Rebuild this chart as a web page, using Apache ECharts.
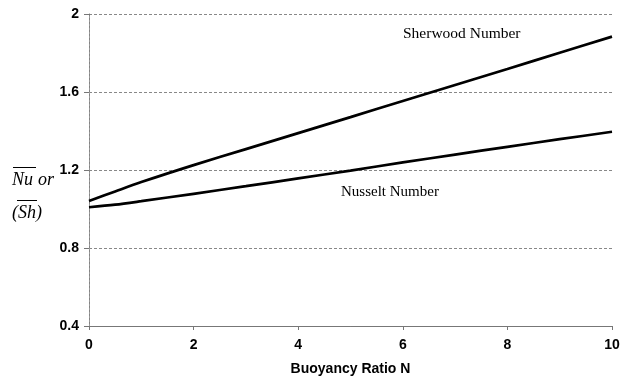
<!DOCTYPE html>
<html>
<head>
<meta charset="utf-8">
<script src="https://cdn.jsdelivr.net/npm/echarts@6/dist/echarts.min.js"></script>
<style>html,body{margin:0;padding:0;background:#fff}#c{width:637px;height:377px}</style>
</head>
<body>
<div id="c"></div>
<script>
var buoyancyN = [0, 0.5, 1, 2, 3, 4, 5, 6, 7, 8, 9, 10];
var sherwood = [1.041, 1.090, 1.138, 1.225, 1.307, 1.389, 1.471, 1.554, 1.636, 1.718, 1.801, 1.884];
var nusselt  = [1.009, 1.022, 1.040, 1.078, 1.117, 1.157, 1.197, 1.239, 1.279, 1.319, 1.358, 1.396];
var xTicks = [0, 2, 4, 6, 8, 10];
var yTicks = [0.4, 0.8, 1.2, 1.6, 2];

function pairs(xs, ys) { return xs.map(function (x, i) { return [x, ys[i]]; }); }

var chart = echarts.init(document.getElementById('c'), null, {renderer: 'canvas'});
var tickFont = {fontFamily: 'Liberation Sans, Arial', fontWeight: 'bold', fontSize: 14, color: '#000'};
chart.setOption({
  animation: false,
  backgroundColor: '#fff',
  grid: {left: 89, right: 25, top: 14, bottom: 51, containLabel: false, outerBoundsMode: 'none'},
  xAxis: {
    type: 'value', min: xTicks[0], max: xTicks[xTicks.length - 1], interval: 2,
    name: 'Buoyancy Ratio N', nameLocation: 'middle', nameGap: 36,
    nameTextStyle: {fontFamily: 'Liberation Sans, Arial', fontWeight: 'bold', fontSize: 14, color: '#000'},
    axisLine: {show: true, onZero: false, lineStyle: {color: '#777', width: 1}},
    axisTick: {show: true, length: 4, lineStyle: {color: '#777'}},
    axisLabel: Object.assign({margin: 12}, tickFont),
    splitLine: {show: false}
  },
  yAxis: [{
    type: 'value', min: yTicks[0], max: yTicks[yTicks.length - 1], interval: 0.4,
    axisLine: {show: true, onZero: false, lineStyle: {color: '#777', width: 1}},
    axisTick: {show: true, length: 5, lineStyle: {color: '#777'}},
    axisLabel: Object.assign({margin: 10, formatter: function (v) { return String(+v.toFixed(1)); }}, tickFont),
    splitLine: {show: true, lineStyle: {color: '#888', type: [3, 2], width: 1}}
  }, {
    type: 'value', position: 'right', min: yTicks[0], max: yTicks[yTicks.length - 1], interval: 0.4,
    axisLine: {show: true, lineStyle: {color: '#999', type: [2, 2], width: 1}},
    axisTick: {show: false}, axisLabel: {show: false}, splitLine: {show: false}
  }],
  series: [{
    name: 'Sherwood Number', type: 'line', data: pairs(buoyancyN, sherwood),
    smooth: 0.3, showSymbol: false, lineStyle: {color: '#000', width: 2.7}
  }, {
    name: 'Nusselt Number', type: 'line', data: pairs(buoyancyN, nusselt),
    smooth: 0.3, showSymbol: false, lineStyle: {color: '#000', width: 2.7}
  }],
  graphic: [
    {type: 'text', left: 403, top: 26, style: {text: 'Sherwood Number', font: '15.5px "Liberation Serif", serif', fill: '#000'}},
    {type: 'text', left: 341, top: 185, style: {text: 'Nusselt Number', font: '15px "Liberation Serif", serif', fill: '#000'}},
    {type: 'text', left: 12, top: 171, style: {text: 'Nu', font: 'italic 18px "Liberation Serif", serif', fill: '#000'}},
    {type: 'text', left: 38, top: 171, style: {text: 'or', font: 'italic 18px "Liberation Serif", serif', fill: '#000'}},
    {type: 'line', shape: {x1: 13, y1: 167.5, x2: 36, y2: 167.5}, style: {stroke: '#000', lineWidth: 1}},
    {type: 'text', left: 12, top: 204, style: {text: '(Sh)', font: 'italic 18px "Liberation Serif", serif', fill: '#000'}},
    {type: 'line', shape: {x1: 17, y1: 200.5, x2: 37, y2: 200.5}, style: {stroke: '#000', lineWidth: 1}}
  ]
});
</script>
</body>
</html>
